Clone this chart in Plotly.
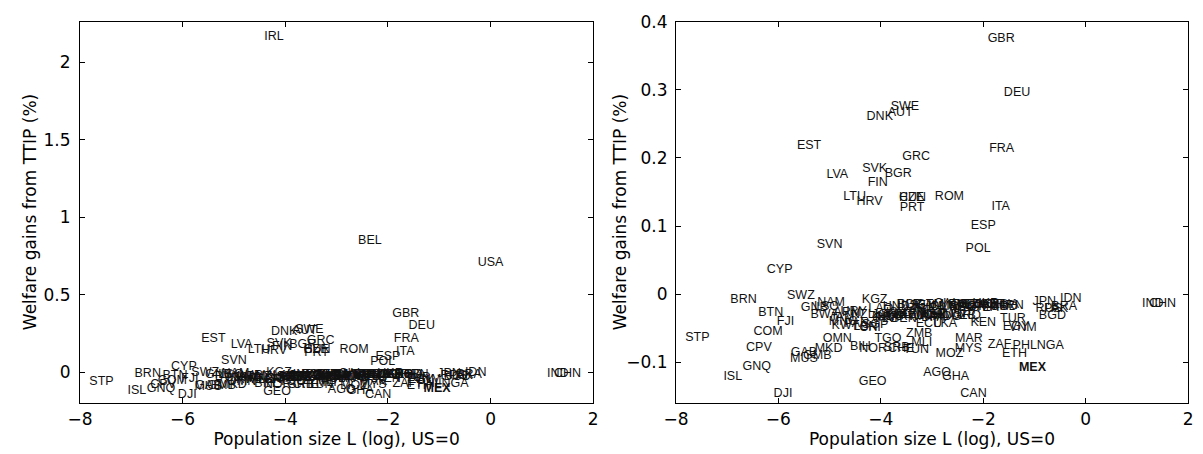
import plotly.graph_objects as go

# Country labels, log population relative to US (x), welfare gains from TTIP in % (y)
codes = [
    "IRL", "BEL", "USA", "GBR", "DEU", "SWE", "AUT", "DNK", "EST", "FRA",
    "GRC", "SVK", "BGR", "LVA", "FIN", "LTU", "HRV", "CZE", "HUN", "ROM",
    "PRT", "ITA", "ESP", "SVN", "POL", "CYP", "BRN", "SWZ", "BTN", "FJI",
    "COM", "STP", "CPV", "GNQ", "ISL", "DJI", "MUS", "GAB", "GMB", "MKD",
    "OMN", "BIH", "NOR", "TGO", "SRB", "CHE", "TUN", "ZMB", "MLI", "MAR",
    "MYS", "MOZ", "AGO", "GHA", "CAN", "GEO", "ZAF", "PHL", "ETH", "MEX",
    "NGA", "JPN", "IDN", "BRA", "RUS", "PAK", "BGD", "IND", "CHN", "TUR",
    "EGY", "VNM", "KEN", "LKA", "ECU", "KGZ", "LAO", "BLR", "GNB", "NAM",
    "LSO", "BWA", "ARM", "URY", "NZL", "KHM", "BOL", "HND", "SEN", "GTM",
    "ZWE", "CMR", "CIV", "YEM", "NPL", "PER", "VEN", "SAU", "DZA", "SDN",
    "UGA", "ARG", "COL", "TZA", "UKR", "KOR", "IRN", "THA", "COD", "MMR",
    "TJK", "ISR", "HKG", "PRY", "JOR", "SLV", "NIC", "DOM", "AZE", "RWA",
    "GIN", "BEN", "MWI", "NER", "BFA", "KAZ", "CHL", "MDG", "AUS", "TWN",
    "UZB", "IRQ", "KWT", "CRI", "LBN", "PAN", "MNG", "SGP", "JAM",
]
log_pop = [
    -4.22, -2.35, 0.00, -1.65, -1.34, -3.53, -3.62, -4.02, -5.40, -1.64,
    -3.31, -4.12, -3.66, -4.85, -4.06, -4.51, -4.22, -3.40, -3.38, -2.66,
    -3.39, -1.66, -2.00, -5.00, -2.10, -5.975, -6.68, -5.56, -6.15, -5.86,
    -6.20, -7.58, -6.38, -6.42, -6.89, -5.91, -5.50, -5.50, -5.24, -5.02,
    -4.85, -4.40, -4.15, -3.86, -3.69, -3.60, -3.31, -3.25, -3.20, -2.28,
    -2.29, -2.66, -2.90, -2.54, -2.19, -4.16, -1.68, -1.19, -1.39, -1.04,
    -0.69, -0.81, -0.29, -0.42, -0.72, -0.58, -0.65, 1.31, 1.50, -1.42,
    -1.36, -1.23, -2.00, -2.74, -3.06, -4.12, -4.00, -3.44, -5.30, -4.97,
    -5.06, -5.10, -4.65, -4.53, -4.35, -3.08, -3.45, -3.70, -3.19, -3.04,
    -3.19, -2.76, -2.76, -2.58, -2.46, -2.35, -2.39, -2.42, -2.17, -2.23,
    -2.23, -1.77, -1.93, -1.93, -1.95, -1.84, -1.42, -1.55, -1.60, -1.80,
    -3.70, -3.70, -3.81, -3.87, -3.93, -3.93, -3.96, -3.45, -3.54, -3.37,
    -3.36, -3.55, -3.05, -2.98, -2.98, -2.95, -2.92, -2.71, -2.67, -2.62,
    -2.39, -2.26, -4.69, -4.21, -4.30, -4.47, -4.73, -4.11, -4.76,
]
welfare_gain = [
    2.16, 0.845, 0.705, 0.375, 0.296, 0.275, 0.266, 0.260, 0.217, 0.214,
    0.201, 0.184, 0.176, 0.175, 0.163, 0.143, 0.135, 0.142, 0.141, 0.143,
    0.126, 0.128, 0.100, 0.073, 0.066, 0.035, -0.009, -0.003, -0.027, -0.041,
    -0.056, -0.064, -0.079, -0.107, -0.121, -0.147, -0.095, -0.086, -0.091, -0.080,
    -0.066, -0.078, -0.080, -0.066, -0.079, -0.081, -0.082, -0.059, -0.071, -0.066,
    -0.080, -0.087, -0.116, -0.122, -0.146, -0.129, -0.074, -0.076, -0.087, -0.108,
    -0.076, -0.011, -0.007, -0.019, -0.022, -0.021, -0.032, -0.014, -0.014, -0.037,
    -0.048, -0.049, -0.042, -0.044, -0.044, -0.008, -0.022, -0.015, -0.020, -0.013,
    -0.018, -0.030, -0.028, -0.026, -0.030, -0.018, -0.016, -0.018, -0.017, -0.016,
    -0.022, -0.018, -0.014, -0.016, -0.017, -0.015, -0.020, -0.019, -0.015, -0.016,
    -0.018, -0.015, -0.016, -0.020, -0.014, -0.016, -0.017, -0.016, -0.018, -0.018,
    -0.030, -0.028, -0.033, -0.035, -0.030, -0.036, -0.034, -0.030, -0.031, -0.033,
    -0.028, -0.036, -0.032, -0.030, -0.035, -0.031, -0.030, -0.033, -0.030, -0.029,
    -0.032, -0.032, -0.047, -0.050, -0.048, -0.044, -0.040, -0.045, -0.035,
]
bold_codes = ["MEX"]

x_range = [-8, 2]
left_y_range = [-0.2, 2.26]
right_y_range = [-0.16, 0.4]
x_ticks = [-8, -6, -4, -2, 0, 2]
left_y_ticks = [0, 0.5, 1, 1.5, 2]
right_y_ticks = [-0.1, 0, 0.1, 0.2, 0.3, 0.4]

x_title = "Population size L (log), US=0"
y_title = "Welfare gains from TTIP (%)"

LABEL_FONT = "Liberation Sans, Arial, Helvetica, sans-serif"
AXIS_FONT = "DejaVu Sans, Verdana, sans-serif"
W, H = 1203, 454


def label(c):
    return f"<b>{c}</b>" if c in bold_codes else c


def in_range(yr):
    idx = [i for i, v in enumerate(welfare_gain) if yr[0] <= v <= yr[1]]
    return ([log_pop[i] for i in idx], [welfare_gain[i] for i in idx],
            [label(codes[i]) for i in idx])


fig = go.Figure()
for xa, ya, yr in (("x", "y", left_y_range), ("x2", "y2", right_y_range)):
    xs, ys, ts = in_range(yr)
    fig.add_trace(go.Scatter(
        x=xs, y=ys, text=ts, mode="text",
        textposition="middle center",
        textfont=dict(family=LABEL_FONT, size=12.5, color="#111111"),
        cliponaxis=True, hoverinfo="skip", showlegend=False,
        xaxis=xa, yaxis=ya,
    ))

common_axis = dict(
    showline=True, linecolor="black", linewidth=1, mirror="ticks",
    ticks="inside", ticklen=5, tickcolor="black", tickwidth=1,
    showgrid=False, zeroline=False,
    tickfont=dict(family=AXIS_FONT, size=17, color="black"),
)
title_font = dict(family=AXIS_FONT, size=17, color="black")
y_top, y_bot = 12, 402
y_dom = [1 - y_bot / H, 1 - y_top / H]
y_mid = 1 - (y_top + y_bot) / 2 / H

fig.update_layout(
    width=W, height=H,
    margin=dict(l=0, r=0, t=0, b=0),
    paper_bgcolor="white", plot_bgcolor="white",
    xaxis=dict(common_axis, domain=[68 / W, 589 / W], range=x_range,
               tickvals=x_ticks, anchor="y", ticklabelstandoff=0,
               title=dict(text=x_title, font=title_font, standoff=3)),
    yaxis=dict(common_axis, domain=y_dom, range=left_y_range,
               tickvals=left_y_ticks, anchor="x", ticklabelstandoff=5),
    xaxis2=dict(common_axis, domain=[673 / W, 1193 / W], range=x_range,
                tickvals=x_ticks, anchor="y2", ticklabelstandoff=0,
                title=dict(text=x_title, font=title_font, standoff=3)),
    yaxis2=dict(common_axis, domain=y_dom, range=right_y_range,
                tickvals=right_y_ticks, anchor="x2", ticklabelstandoff=4),
    annotations=[
        dict(text=y_title, textangle=-90, font=title_font, showarrow=False,
             xref="paper", yref="paper", x=18 / W, y=y_mid,
             xanchor="center", yanchor="middle"),
        dict(text=y_title, textangle=-90, font=title_font, showarrow=False,
             xref="paper", yref="paper", x=617 / W, y=y_mid,
             xanchor="center", yanchor="middle"),
    ],
)

fig.write_html("out.html", config={"displayModeBar": False},
               post_script="document.body.style.margin='0';")
